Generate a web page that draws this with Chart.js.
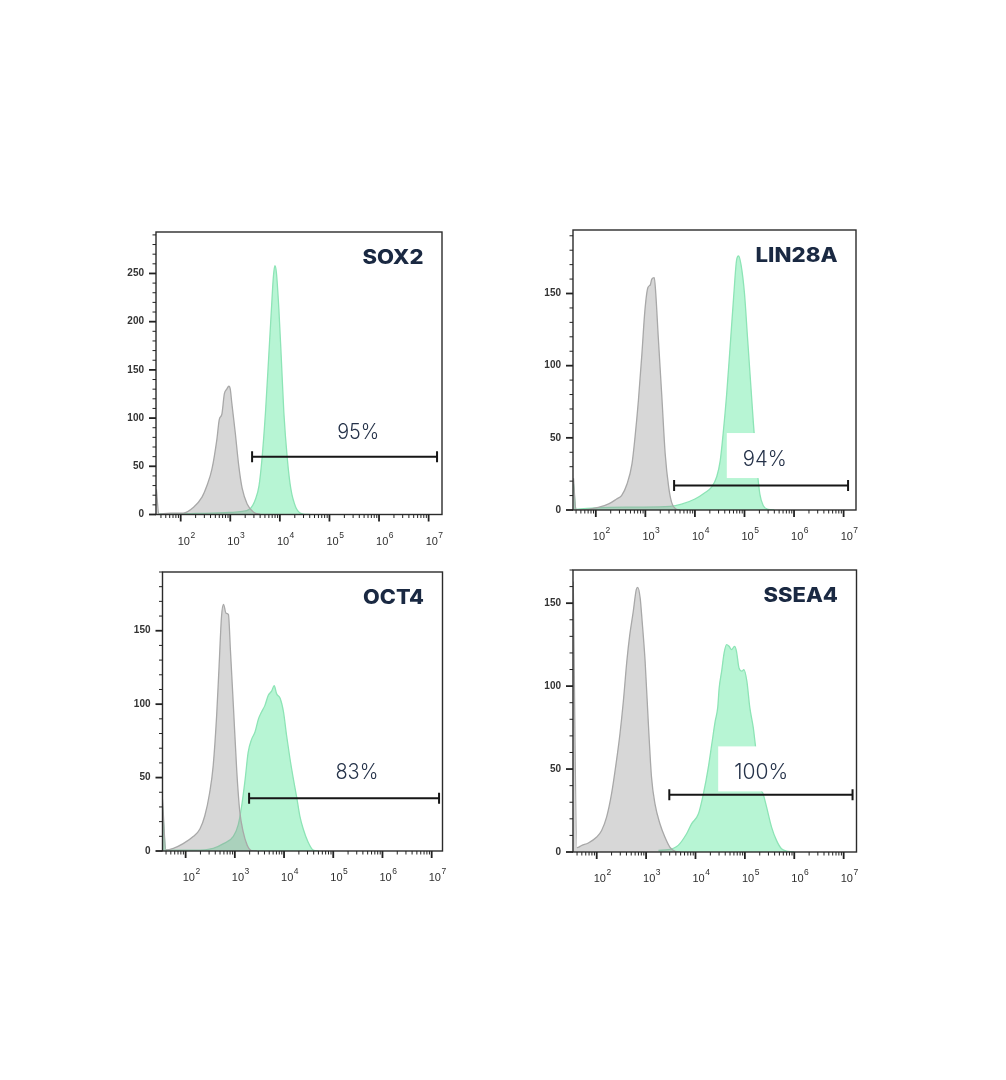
<!DOCTYPE html>
<html>
<head>
<meta charset="utf-8">
<title>Flow cytometry – pluripotency markers</title>
<script src="https://cdn.jsdelivr.net/npm/chart.js@4.4.0/dist/chart.umd.min.js"></script>
<style>
  html, body { margin: 0; padding: 0; background: #fff; }
  #page { position: relative; width: 1006px; height: 1080px; overflow: hidden; }
  #page canvas { position: absolute; }
</style>
</head>
<body>
<div id="page"></div>
<script>
// ---- data (x values are log10 of intensity) ----
const markers = ['SOX2', 'LIN28A', 'OCT4', 'SSEA4'];
const percents = ['95%', '94%', '83%', '100%'];

const decadeTicks = [1e2, 1e3, 1e4, 1e5, 1e6, 1e7];
const yTickLabels = [
  [0, 50, 100, 150, 200, 250],
  [0, 50, 100, 150],
  [0, 50, 100, 150],
  [0, 50, 100, 150]
];
const xRangeLog = [[1.502, 7.27], [1.54, 7.25], [1.53, 7.22], [1.52, 7.26]];
const yMax = [293, 194, 190, 170];

// gate bars: start / end (log10) and height (count)
const gateFrom = [3.44, 3.58, 3.29, 3.47];
const gateTo = [7.17, 7.09, 7.15, 7.18];
const gateLevel = [60, 17, 36, 34.5];
// percent label centres (log10, count)
const labelLog = [5.58, 5.41, 5.48, 5.33];
const labelCount = [86, 36, 54, 48.6];

// SOX2
const sox2IsoLog = [1.51, 1.56, 1.65, 1.8, 2.05, 2.26, 2.43, 2.53, 2.63, 2.73, 2.78, 2.83, 2.88, 2.93, 2.97, 3.0, 3.03, 3.1, 3.17, 3.24, 3.34, 3.47, 3.61];
const sox2IsoCount = [26, 0, 1, 1.4, 1.5, 7.6, 18, 30, 47, 78, 99, 104, 125, 130, 133, 130, 116, 85, 51, 27, 11, 2.4, 0];
const sox2StainLog = [1.55, 2.2, 2.9, 3.2, 3.4, 3.51, 3.58, 3.64, 3.71, 3.78, 3.83, 3.87, 3.9, 3.93, 3.98, 4.03, 4.08, 4.15, 4.22, 4.32, 4.45, 4.6];
const sox2StainCount = [0.5, 1, 2, 3, 6, 16, 30, 58, 106, 168, 213, 247, 258, 251, 213, 161, 106, 58, 27, 7.6, 0.7, 0];

// LIN28A
const lin28IsoLog = [1.55, 1.6, 1.85, 2.05, 2.26, 2.42, 2.52, 2.63, 2.73, 2.79, 2.86, 2.93, 2.99, 3.05, 3.1, 3.13, 3.18, 3.21, 3.26, 3.33, 3.4, 3.47, 3.53, 3.63, 3.7];
const lin28IsoCount = [22, 0, 0.5, 1.8, 4.2, 7.6, 10, 18, 32, 50, 76, 108, 138, 154, 156, 160, 161, 150, 120, 80, 39, 16, 5.3, 0.5, 0];
const lin28StainLog = [1.55, 1.6, 2.0, 2.8, 3.5, 3.73, 4.0, 4.2, 4.34, 4.44, 4.51, 4.57, 4.64, 4.71, 4.78, 4.84, 4.88, 4.93, 5.0, 5.06, 5.13, 5.18, 5.25, 5.31, 5.38, 5.48, 5.6];
const lin28StainCount = [18, 0.5, 1.5, 2, 2.5, 4, 7.6, 12, 16, 23, 34, 53, 80, 113, 147, 173, 176, 170, 150, 120, 85, 60, 30, 11, 3, 0.5, 0];

// OCT4
const oct4IsoLog = [1.53, 1.6, 1.75, 1.95, 2.16, 2.29, 2.39, 2.49, 2.56, 2.63, 2.68, 2.73, 2.77, 2.82, 2.87, 2.91, 2.97, 3.04, 3.1, 3.17, 3.25, 3.34, 3.45];
const oct4IsoCount = [35, 0.7, 1.8, 5, 10, 15, 24, 40, 58, 92, 126, 160, 168, 162, 161, 137, 99, 54, 27, 13, 4, 0.2, 0];
const oct4StainLog = [1.53, 1.6, 2.2, 2.56, 2.77, 2.97, 3.07, 3.14, 3.21, 3.27, 3.34, 3.41, 3.48, 3.54, 3.61, 3.68, 3.75, 3.8, 3.85, 3.92, 3.99, 4.05, 4.12, 4.19, 4.26, 4.32, 4.39, 4.49, 4.59, 4.7];
const oct4StainCount = [30, 0.5, 0.5, 1.8, 5, 10, 18, 31, 49, 67, 76, 81, 90, 94.5, 99, 106, 109, 112.6, 107, 104, 94.5, 79, 63, 49, 36, 24, 15, 6, 0.7, 0];

// SSEA4
const ssea4IsoLog = [1.525, 1.6, 1.7, 1.83, 2.0, 2.1, 2.2, 2.3, 2.4, 2.47, 2.54, 2.61, 2.67, 2.74, 2.8, 2.83, 2.88, 2.92, 2.98, 3.05, 3.11, 3.18, 3.28, 3.38, 3.48, 3.59, 3.7];
const ssea4IsoCount = [163, 2.6, 4, 5.4, 9, 13, 21, 35, 55, 71, 91, 115, 131, 145, 158, 159.5, 153, 139, 115, 75, 45, 29, 17, 9, 3, 0.4, 0];
const ssea4StainLog = [3.25, 3.45, 3.65, 3.82, 3.92, 4.06, 4.16, 4.26, 4.33, 4.4, 4.45, 4.48, 4.53, 4.58, 4.63, 4.68, 4.73, 4.79, 4.83, 4.88, 4.94, 4.98, 5.04, 5.1, 5.17, 5.21, 5.31, 5.37, 5.44, 5.54, 5.64, 5.74, 5.88, 6.0];
const ssea4StainCount = [1, 1.4, 4, 11, 17, 23, 35, 51, 65, 79, 87, 99, 109, 120, 125, 124, 122, 124, 121, 111, 109, 110, 103, 87, 75, 65, 39, 35, 27, 15, 7, 2, 0.4, 0];

const isoLogs = [sox2IsoLog, lin28IsoLog, oct4IsoLog, ssea4IsoLog];
const isoCounts = [sox2IsoCount, lin28IsoCount, oct4IsoCount, ssea4IsoCount];
const stainLogs = [sox2StainLog, lin28StainLog, oct4StainLog, ssea4StainLog];
const stainCounts = [sox2StainCount, lin28StainCount, oct4StainCount, ssea4StainCount];

// ---- layout: plot frame of every panel, page pixels ----
const plotRects = [
  { left: 156, top: 231, right: 442, bottom: 514.5 },
  { left: 573, top: 229.5, right: 856, bottom: 510 },
  { left: 162.5, top: 571, right: 442.5, bottom: 851 },
  { left: 573, top: 569.5, right: 856.5, bottom: 852 }
];
const titleWidth = [61, 82, 61, 74.5];
const percentWidth = [42, 44, 43, 54];

const TITLE_FONT = '800 20px Inter, "Open Sans", sans-serif';
const PERCENT_FONT = '300 21px Inter, "Open Sans", sans-serif';
const TICK_FONT = 'Arial, "Liberation Sans", sans-serif';

function toPoints(logs, counts) {
  return logs.map((e, i) => ({ x: Math.pow(10, e), y: counts[i] }));
}

function fitText(ctx, text, x, y, width) {
  const w = ctx.measureText(text).width;
  ctx.save();
  ctx.translate(x, y);
  ctx.scale(width / w, 1);
  ctx.fillText(text, 0, 0);
  ctx.restore();
}

const flowPanel = {
  id: 'flowPanel',
  afterDatasetsDraw(chart, args, opts) {
    const i = opts.index;
    const { ctx } = chart;
    const x = chart.scales.x, y = chart.scales.y;
    ctx.save();

    // percent label with its white box
    ctx.font = PERCENT_FONT;
    const lx = x.getPixelForValue(Math.pow(10, labelLog[i]));
    const ly = y.getPixelForValue(labelCount[i]);
    const tw = percentWidth[i];
    ctx.fillStyle = '#fff';
    ctx.fillRect(lx - tw / 2 - 16, ly - 25, tw + 32, 45);
    ctx.fillStyle = '#26334a';
    ctx.textAlign = 'center';
    ctx.textBaseline = 'alphabetic';
    fitText(ctx, percents[i], lx, ly + 7.5, tw);

    // gate bar
    const gy = y.getPixelForValue(gateLevel[i]);
    const g1 = x.getPixelForValue(Math.pow(10, gateFrom[i]));
    const g2 = x.getPixelForValue(Math.pow(10, gateTo[i]));
    ctx.strokeStyle = '#161616';
    ctx.lineWidth = 2;
    ctx.beginPath();
    ctx.moveTo(g1, gy); ctx.lineTo(g2, gy);
    ctx.moveTo(g1, gy - 5.5); ctx.lineTo(g1, gy + 5.5);
    ctx.moveTo(g2, gy - 5.5); ctx.lineTo(g2, gy + 5.5);
    ctx.stroke();
    ctx.restore();
  },
  afterDraw(chart, args, opts) {
    const i = opts.index;
    const { ctx, chartArea: a } = chart;
    const x = chart.scales.x, y = chart.scales.y;
    ctx.save();

    // frame
    ctx.strokeStyle = '#2b2b2b';
    ctx.lineWidth = 1.4;
    ctx.strokeRect(a.left, a.top, a.right - a.left, a.bottom - a.top);

    // x ticks, log style
    ctx.strokeStyle = '#222';
    for (let d = 1; d <= 7; d++) {
      for (let m = 1; m <= 9; m++) {
        const v = m * Math.pow(10, d);
        if (v < x.min || v > x.max) continue;
        const px = x.getPixelForValue(v);
        ctx.lineWidth = m === 1 ? 1.8 : 1;
        ctx.beginPath();
        ctx.moveTo(px, a.bottom);
        ctx.lineTo(px, a.bottom + (m === 1 ? 7 : 3.5));
        ctx.stroke();
      }
    }
    // y ticks, minor every 10
    for (let v = 0; v <= y.max; v += 10) {
      const py = y.getPixelForValue(v);
      const major = v % 50 === 0;
      ctx.lineWidth = major ? 1.8 : 1;
      ctx.beginPath();
      ctx.moveTo(a.left, py);
      ctx.lineTo(a.left - (major ? 7 : 3.5), py);
      ctx.stroke();
    }

    // x labels 10^n
    ctx.fillStyle = '#2e2e2e';
    ctx.textBaseline = 'alphabetic';
    ctx.textAlign = 'left';
    decadeTicks.forEach(v => {
      const px = x.getPixelForValue(v) + 5.5;
      const exp = String(Math.round(Math.log10(v)));
      ctx.font = '11px ' + TICK_FONT;
      const w1 = ctx.measureText('10').width;
      ctx.font = '8.5px ' + TICK_FONT;
      const w2 = ctx.measureText(exp).width;
      const start = px - (w1 + w2) / 2;
      ctx.font = '11px ' + TICK_FONT;
      ctx.fillText('10', start, a.bottom + 30);
      ctx.font = '8.5px ' + TICK_FONT;
      ctx.fillText(exp, start + w1 + 0.5, a.bottom + 23);
    });

    // marker name
    ctx.font = TITLE_FONT;
    ctx.fillStyle = '#1a2942';
    ctx.textAlign = 'right';
    fitText(ctx, markers[i], a.right - 18.5, a.top + 31.5, titleWidth[i]);
    ctx.restore();
  }
};

const page = document.getElementById('page');

markers.forEach((name, i) => {
  const r = plotRects[i];
  const cl = Math.floor(r.left - 48), ct = Math.floor(r.top - 10);
  const cw = Math.ceil(r.right + 16) - cl, ch = Math.ceil(r.bottom + 42) - ct;
  const canvas = document.createElement('canvas');
  canvas.width = cw;
  canvas.height = ch;
  canvas.style.left = cl + 'px';
  canvas.style.top = ct + 'px';
  canvas.style.width = cw + 'px';
  canvas.style.height = ch + 'px';
  page.appendChild(canvas);

  const yAxisW = r.left - cl;
  const xAxisH = ct + ch - r.bottom;

  new Chart(canvas.getContext('2d'), {
    type: 'line',
    data: {
      datasets: [
        {
          label: 'Isotype',
          data: toPoints(isoLogs[i], isoCounts[i]),
          borderColor: '#a8a8a8',
          backgroundColor: 'rgba(150, 150, 150, 0.38)',
          borderWidth: 1.3,
          fill: 'origin',
          pointRadius: 0,
          cubicInterpolationMode: 'monotone'
        },
        {
          label: name,
          data: toPoints(stainLogs[i], stainCounts[i]),
          borderColor: '#8de4b6',
          backgroundColor: 'rgba(95, 232, 160, 0.45)',
          borderWidth: 1.3,
          fill: 'origin',
          pointRadius: 0,
          cubicInterpolationMode: 'monotone'
        }
      ]
    },
    options: {
      responsive: false,
      animation: false,
      events: [],
      layout: {
        padding: { left: 0, top: r.top - ct, right: cl + cw - r.right, bottom: 0 }
      },
      scales: {
        x: {
          type: 'logarithmic',
          min: Math.pow(10, xRangeLog[i][0]),
          max: Math.pow(10, xRangeLog[i][1]),
          afterFit: s => { s.height = xAxisH; },
          afterBuildTicks: s => { s.ticks = decadeTicks.map(v => ({ value: v })); },
          grid: { display: false },
          border: { display: false },
          ticks: { display: false }
        },
        y: {
          type: 'linear',
          min: 0,
          max: yMax[i],
          afterFit: s => { s.width = yAxisW; },
          afterBuildTicks: s => { s.ticks = yTickLabels[i].map(v => ({ value: v })); },
          grid: { display: false, drawTicks: true, tickLength: 7 },
          border: { display: false },
          ticks: {
            padding: 5,
            color: '#333',
            font: { family: TICK_FONT, size: 10, weight: 'bold' }
          }
        }
      },
      plugins: {
        legend: { display: false },
        tooltip: { enabled: false },
        flowPanel: { index: i }
      }
    },
    plugins: [flowPanel]
  });
});
</script>
</body>
</html>
